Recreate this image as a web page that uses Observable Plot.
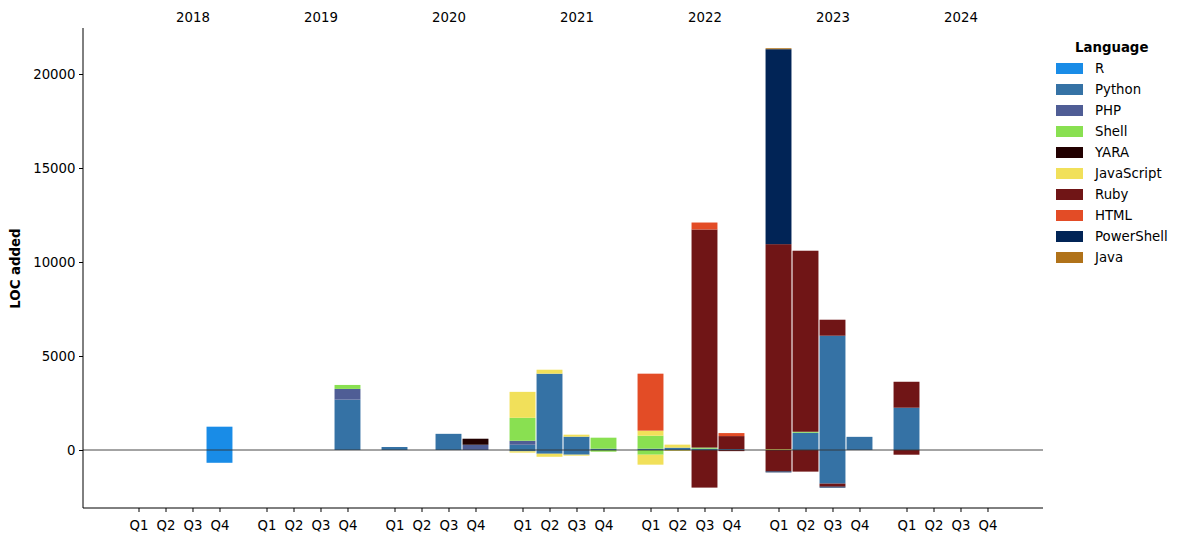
<!DOCTYPE html>
<html>
<head>
<meta charset="utf-8">
<script src="https://cdn.jsdelivr.net/npm/d3@7"></script>
<script src="https://cdn.jsdelivr.net/npm/@observablehq/plot@0.6"></script>
<style>
  body { margin: 0; background: #fff; font-family: "DejaVu Sans", sans-serif; }
  #wrap { position: relative; width: 1185px; height: 542px; }
  #wrap svg { position: absolute; left: 0; top: 0; }
  #legend { position: absolute; left: 1056px; top: 37px; font-size: 13.3px; color: #000; }
  #legend .lt { font-weight: bold; height: 21px; line-height: 21px; padding-left: 19px; }
  #legend .row { height: 21px; display: flex; align-items: center; }
  #legend .sw { width: 27px; height: 11px; margin-right: 12px; }
  g[aria-label="y-axis label"] text { font-weight: bold; }
</style>
</head>
<body>
<div id="wrap"></div>
<script>
// ---- data ----
const years = ["2018", "2019", "2020", "2021", "2022", "2023", "2024"];
const quarters = ["Q1", "Q2", "Q3", "Q4"];
const languages = ["R", "Python", "PHP", "Shell", "YARA", "JavaScript", "Ruby", "HTML", "PowerShell", "Java"];
const colors = ["#198CE7", "#3572A5", "#4F5D95", "#89e051", "#220000", "#f1e05a", "#701516", "#e34c26", "#012456", "#b07219"];

// [period, LOC added (positive part), LOC removed (negative part)]
const R = [["2018-Q4", 1240, -680]];
const Python = [
  ["2019-Q4", 2680, 0], ["2020-Q1", 160, 0], ["2020-Q3", 860, 0],
  ["2021-Q1", 280, -70], ["2021-Q2", 4060, -200], ["2021-Q3", 710, -250], ["2021-Q4", 70, 0],
  ["2022-Q1", 70, 0], ["2022-Q2", 125, 0], ["2022-Q3", 70, 0], ["2022-Q4", 50, 0],
  ["2023-Q2", 920, 0], ["2023-Q3", 6080, -1790], ["2023-Q4", 700, 0], ["2024-Q1", 2250, 0]
];
const PHP = [["2019-Q4", 570, 0], ["2020-Q4", 280, 0], ["2021-Q1", 213, 0]];
const Shell = [["2019-Q4", 210, 0], ["2021-Q1", 1220, 0], ["2021-Q4", 585, -90], ["2022-Q1", 690, -250], ["2022-Q3", 60, 0], ["2023-Q2", 50, 0]];
const YARA = [["2020-Q4", 320, 0]];
const JavaScript = [["2021-Q1", 1380, -70], ["2021-Q2", 210, -160], ["2021-Q3", 105, -50], ["2022-Q1", 270, -530], ["2022-Q2", 160, -50], ["2023-Q1", 50, 0]];
const Ruby = [["2022-Q3", 11600, -2000], ["2022-Q4", 690, -60], ["2023-Q1", 10900, -1140], ["2023-Q2", 9630, -1150], ["2023-Q3", 850, -160], ["2024-Q1", 1380, -250]];
const HTML = [["2022-Q1", 3030, 0], ["2022-Q3", 370, 0], ["2022-Q4", 160, 0]];
const PowerShell = [["2023-Q1", 10370, -50], ["2023-Q3", 0, -50]];
const Java = [["2023-Q1", 50, 0]];

const yTicks = [0, 5000, 10000, 15000, 20000];

// ---- layout ----
const W = 1185, H = 542, ML = 83, MR = 142, MT = 28, MB = 34;
const fxOptions = {domain: years, paddingInner: 0.148, paddingOuter: 0.324, round: false};

// ---- table for Plot ----
const series = {R, Python, PHP, Shell, YARA, JavaScript, Ruby, HTML, PowerShell, Java};
const rows = [];
for (const lang of languages) {
  for (const [period, add, del] of series[lang]) {
    const [year, quarter] = period.split("-");
    if (add) rows.push({year, quarter, language: lang, value: add});
    if (del) rows.push({year, quarter, language: lang, value: del});
  }
}

// offset between the frame's left edge and the first facet (for the y axis)
const fxProbe = Plot.scale({fx: {...fxOptions, range: [ML, W - MR]}});
const facetOffset = fxProbe.apply(years[0]) - ML;

// spines and zero baseline drawn once across the whole frame, positioned by the y scale
const spines = Plot.frame({
  facet: "super",
  render: (index, scales) => {
    const y0 = scales.y(0);
    const g = d3.create("svg:g").attr("aria-label", "spines");
    g.append("line")
      .attr("x1", ML).attr("x2", W - MR).attr("y1", y0).attr("y2", y0)
      .attr("stroke", "#333").attr("stroke-width", 0.9);
    g.append("line")
      .attr("x1", ML).attr("x2", ML).attr("y1", MT).attr("y2", H - MB)
      .attr("stroke", "#000").attr("stroke-width", 1);
    g.append("line")
      .attr("x1", ML).attr("x2", W - MR).attr("y1", H - MB).attr("y2", H - MB)
      .attr("stroke", "#000").attr("stroke-width", 1);
    return g.node();
  }
});

const plot = Plot.plot({
  width: W,
  height: H,
  marginLeft: ML,
  marginRight: MR,
  marginTop: MT,
  marginBottom: MB,
  style: {fontFamily: "DejaVu Sans", fontSize: "13.3px", color: "#000", background: "#fff"},
  fx: {...fxOptions, axis: null},
  x: {domain: quarters, padding: 0.04, round: false, label: null, tickSize: 4, tickPadding: 8},
  y: {domain: [-3085, 22447]},
  color: {domain: languages, range: colors},
  marks: [
    Plot.barY(rows, {fx: "year", x: "quarter", y: "value", fill: "language", order: languages}),
    spines,
    Plot.axisY({ticks: yTicks, tickFormat: d => String(d), tickSize: 4, tickPadding: 4, dx: -facetOffset,
      label: "LOC added", labelAnchor: "center", labelOffset: 73 + facetOffset, labelArrow: "none"}),
    Plot.text(years, {fx: d => d, x: () => "Q3", text: d => d, frameAnchor: "top", dy: -16, fill: "#000"})
  ]
});

const wrap = document.getElementById("wrap");
wrap.appendChild(plot);

// legend built from the color scale
const cs = plot.scale("color");
const legend = document.createElement("div");
legend.id = "legend";
const title = document.createElement("div");
title.className = "lt";
title.textContent = "Language";
legend.appendChild(title);
cs.domain.forEach((d, i) => {
  const row = document.createElement("div");
  row.className = "row";
  const sw = document.createElement("span");
  sw.className = "sw";
  sw.style.background = cs.range[i];
  const t = document.createElement("span");
  t.textContent = d;
  row.appendChild(sw);
  row.appendChild(t);
  legend.appendChild(row);
});
wrap.appendChild(legend);
</script>
</body>
</html>
